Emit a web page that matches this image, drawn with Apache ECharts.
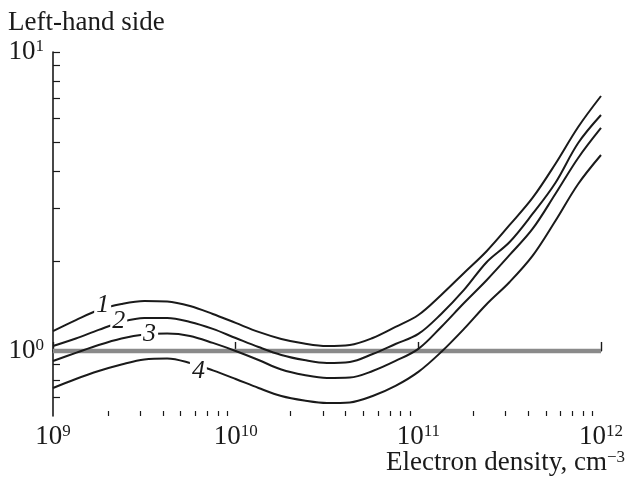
<!DOCTYPE html>
<html>
<head>
<meta charset="utf-8">
<script src="https://cdn.jsdelivr.net/npm/echarts@6/dist/echarts.min.js"></script>
<style>
  html, body { margin: 0; padding: 0; background: #fff; }
  #chart { width: 626px; height: 477px; }
</style>
</head>
<body>
<div id="chart"></div>
<script>
// ---- data ----
const density = [1e9, 1.334e9, 1.778e9, 2.371e9, 3.162e9, 4.217e9, 5.623e9, 7.499e9,
                 1e10, 1.334e10, 1.778e10, 2.371e10, 3.162e10, 4.217e10, 5.623e10, 7.499e10,
                 1e11, 1.334e11, 1.778e11, 2.371e11, 3.162e11, 4.217e11, 5.623e11, 7.499e11, 1e12];
const curve1 = [1.166, 1.269, 1.371, 1.436, 1.470, 1.464, 1.414, 1.330,
                1.241, 1.158, 1.097, 1.059, 1.039, 1.047, 1.105, 1.203,
                1.319, 1.539, 1.823, 2.160, 2.639, 3.249, 4.221, 5.613, 7.126];
const curve2 = [1.039, 1.101, 1.176, 1.250, 1.289, 1.289, 1.250, 1.185,
                1.105, 1.031, 0.970, 0.933, 0.912, 0.919, 0.977, 1.055,
                1.140, 1.330, 1.600, 1.985, 2.315, 2.872, 3.647, 4.962, 6.156];
const curve3 = [0.926, 0.985, 1.047, 1.101, 1.136, 1.144, 1.123, 1.064,
                1.000, 0.933, 0.867, 0.831, 0.812, 0.815, 0.857, 0.926,
                1.016, 1.203, 1.447, 1.728, 2.095, 2.559, 3.350, 4.421, 5.570];
const curve4 = [0.752, 0.806, 0.857, 0.901, 0.937, 0.944, 0.912, 0.861,
                0.806, 0.752, 0.707, 0.683, 0.670, 0.673, 0.707, 0.764,
                0.851, 0.992, 1.185, 1.436, 1.701, 2.079, 2.721, 3.619, 4.524];
const curves = [curve1, curve2, curve3, curve4];

const refLineX = [1e9, 1e12];
const refLineY = [1, 1];

const curveLabels = ['1', '2', '3', '4'];
const curveLabelX = [1.87e9, 2.29e9, 3.38e9, 6.25e9];
const curveLabelY = [1.425, 1.26, 1.14, 0.857];

const xMajorTicks = [1e9, 1e10, 1e11, 1e12];
const xMinorFactors = [2, 3, 4, 5, 6, 7, 8, 9];
const yTickValues = [0.7, 0.8, 0.9, 1, 2, 3, 4, 5, 6, 7, 8, 9, 10];
const yLabelValues = [1, 10];
const xRange = [1e9, 1e12];
const yRange = [0.606, 10];

const yTitle = 'Left-hand side';
const xTitle = 'Electron density, cm';
const xTitleSup = '−3';

// ---- build ----
const L = Math.log10;
const FONT = "'Liberation Serif', 'Times New Roman', serif";
const INK = '#1a1a1a';

const xMinor = [];
for (let i = 0; i < xMajorTicks.length - 1; i++) {
  xMinorFactors.forEach(f => xMinor.push(L(xMajorTicks[i] * f)));
}

const richPow = {
  b: { fontSize: 27, fontFamily: FONT, fontWeight: 'normal', color: INK, lineHeight: 27 },
  s: { fontSize: 17, fontFamily: FONT, fontWeight: 'normal', color: INK, lineHeight: 17, verticalAlign: 'top' }
};
const powFmt = v => '{b|10}{s|' + Math.round(v) + '}';

const lineSeries = curves.map(c => ({
  type: 'line',
  data: density.map((d, i) => [L(d), L(c[i])]),
  showSymbol: false,
  smooth: 0.35,
  lineStyle: { color: INK, width: 2 },
  z: 3,
  silent: true
}));

const option = {
  animation: false,
  backgroundColor: '#fff',
  title: [
    {
      text: yTitle, left: 8, top: 9, padding: 0,
      textStyle: { fontFamily: FONT, fontSize: 27, fontWeight: 'normal', color: INK }
    },
    {
      text: '{t|' + xTitle + '}{s|' + xTitleSup + '}', right: 1, top: 449, padding: 0,
      textStyle: {
        fontWeight: 'normal',
        rich: {
          t: { fontSize: 27, fontFamily: FONT, fontWeight: 'normal', color: INK, lineHeight: 27 },
          s: { fontSize: 17, fontFamily: FONT, fontWeight: 'normal', color: INK, lineHeight: 17, verticalAlign: 'top' }
        }
      }
    }
  ],
  grid: { left: 53, right: 23, top: 52, bottom: 61 },
  xAxis: [
    {
      type: 'value', min: L(xRange[0]), max: L(xRange[1]), position: 'bottom',
      axisLine: { show: true, lineStyle: { color: INK, width: 1.6 } },
      axisTick: { show: true, inside: true, length: 9, lineStyle: { color: INK, width: 1.4 },
                  customValues: xMajorTicks.map(L) },
      axisLabel: { show: true, margin: 7, formatter: powFmt, rich: richPow,
                   customValues: xMajorTicks.map(L) },
      splitLine: { show: false }
    },
    {
      type: 'value', min: L(xRange[0]), max: L(xRange[1]), position: 'bottom', offset: 0,
      axisLine: { show: false },
      axisTick: { show: true, inside: true, length: 5, lineStyle: { color: INK, width: 1.2 },
                  customValues: xMinor },
      axisLabel: { show: false },
      splitLine: { show: false }
    }
  ],
  yAxis: {
    type: 'value', min: L(yRange[0]), max: L(yRange[1]),
    axisLine: { show: true, lineStyle: { color: INK, width: 1.6 } },
    axisTick: { show: true, inside: true, length: 7, lineStyle: { color: INK, width: 1.2 },
                customValues: yTickValues.map(L) },
    axisLabel: { show: true, margin: 9, formatter: powFmt, rich: richPow,
                 customValues: yLabelValues.map(L) },
    splitLine: { show: false }
  },
  series: [
    {
      type: 'line',
      data: refLineX.map((x, i) => [L(x), L(refLineY[i])]),
      showSymbol: false,
      lineStyle: { color: '#8a8a8a', width: 4.5 },
      z: 2,
      silent: true
    },
    ...lineSeries,
    {
      type: 'scatter',
      data: curveLabels.map((t, i) => ({ value: [L(curveLabelX[i]), L(curveLabelY[i])], name: t })),
      symbolSize: 0,
      itemStyle: { opacity: 1 },
      z: 5,
      silent: true,
      label: {
        show: true, position: 'inside', formatter: p => p.name,
        fontFamily: FONT, fontStyle: 'italic', fontSize: 26, color: INK, opacity: 1,
        backgroundColor: '#fff', padding: [0, 2], lineHeight: 22
      }
    }
  ]
};

const chart = echarts.init(document.getElementById('chart'), null, { renderer: 'canvas' });
chart.setOption(option);
</script>
</body>
</html>
